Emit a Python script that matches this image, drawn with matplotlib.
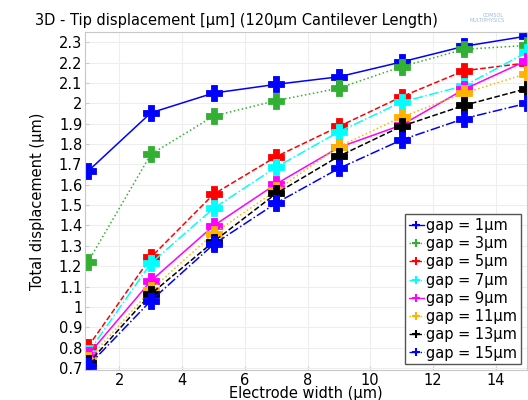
import matplotlib
matplotlib.use("Agg")
import matplotlib.pyplot as plt
from matplotlib.lines import Line2D
from matplotlib.ticker import FuncFormatter

# electrode width (µm)
width = [1, 3, 5, 7, 9, 11, 13, 15]

# tip displacement (µm) for each gap
gap1 = [1.667, 1.953, 2.05, 2.093, 2.13, 2.203, 2.28, 2.33]
gap3 = [1.222, 1.749, 1.937, 2.013, 2.074, 2.18, 2.265, 2.284]
gap5 = [0.805, 1.243, 1.553, 1.738, 1.886, 2.032, 2.16, 2.198]
gap7 = [0.775, 1.214, 1.484, 1.686, 1.86, 2.006, 2.086, 2.25]
gap9 = [0.764, 1.127, 1.398, 1.604, 1.783, 1.893, 2.069, 2.21]
gap11 = [0.74, 1.083, 1.36, 1.572, 1.787, 1.932, 2.05, 2.146]
gap13 = [0.722, 1.063, 1.32, 1.557, 1.74, 1.887, 1.99, 2.072]
gap15 = [0.71, 1.03, 1.307, 1.51, 1.68, 1.82, 1.925, 2.0]

series = [gap1, gap3, gap5, gap7, gap9, gap11, gap13, gap15]
labels = ["gap = 1µm", "gap = 3µm", "gap = 5µm", "gap = 7µm",
          "gap = 9µm", "gap = 11µm", "gap = 13µm", "gap = 15µm"]
colors = ["#0000ff", "#33b033", "#ff0000", "#00ffff",
          "#ff00ff", "#ffb300", "#000000", "#0000ff"]
styles = ["-", ":", "--", "-.", "-", ":", "--", "-."]

fig = plt.figure(figsize=(5.28, 4.0), dpi=100)
ax = fig.add_axes([0.161, 0.075, 0.837, 0.845])

handles = []
for y, lab, c, ls in zip(series, labels, colors, styles):
    ax.plot(width, y, linestyle=ls, color=c, linewidth=1.1,
            marker="P", markersize=12, markeredgewidth=0.6,
            markeredgecolor=c, markerfacecolor=c)
    # thin plus in the legend, like the original
    handles.append(Line2D([], [], linestyle=ls, color=c, linewidth=1.0,
                          marker="+", markersize=6, markeredgewidth=1.5,
                          label=lab))

ax.set_xlim(0.9, 15.0)
ax.set_ylim(0.69, 2.35)
ax.set_xticks([2, 4, 6, 8, 10, 12, 14])
ax.set_yticks([0.7 + 0.1 * i for i in range(17)])
ax.yaxis.set_major_formatter(FuncFormatter(lambda v, p: "%g" % round(v, 2)))
ax.tick_params(labelsize=10.5, length=3, color="#cccccc", direction="in", pad=2)

ax.grid(True, color="#eeeeee", linewidth=0.8)
for s in ax.spines.values():
    s.set_color("#c8c8c8")

fig.text(35 / 528, 1 - 20 / 400, "3D - Tip displacement [µm] (120µm Cantilever Length)",
         fontsize=10.5, ha="left", va="center")
ax.set_xlabel("Electrode width (µm)", fontsize=10.5, labelpad=-1)
ax.set_ylabel("Total displacement (µm)", fontsize=10.5, labelpad=10)

fig.text(0.955, 0.955, "COMSOL\nMULTIPHYSICS", fontsize=3.5, color="#9fb8d8",
         ha="right", va="center")

leg = ax.legend(handles=handles, loc="lower right", fontsize=10.5,
                handlelength=1.0, handletextpad=0.2, labelspacing=0.22,
                borderaxespad=0.4, borderpad=0.25, fancybox=False,
                framealpha=1.0, edgecolor="#555555")
leg.get_frame().set_linewidth(1.0)

fig.savefig("out.png", dpi=100)
